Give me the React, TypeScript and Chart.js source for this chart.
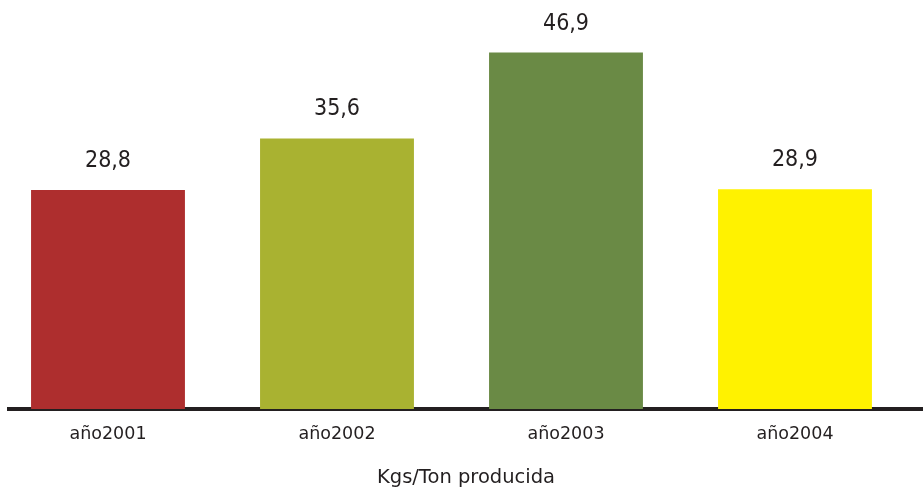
import React, { useEffect, useRef } from "react";
import { Chart, registerables } from "chart.js";

Chart.register(...registerables);

// Kgs per ton produced, by year
const categories = ["año2001", "año2002", "año2003", "año2004"];
const values = [28.8, 35.6, 46.9, 28.9];
const valueLabels = ["28,8", "35,6", "46,9", "28,9"];
const barColors = ["#ae2e2e", "#a9b231", "#6a8a45", "#fff200"];
const axisTitle = "Kgs/Ton producida";

const VALUE_FONT = "'DejaVu Sans Condensed', 'DejaVu Sans', sans-serif";
const TEXT_FONT = "'DejaVu Sans', sans-serif";
const INK = "#231f20";

// Writes each bar's value above it
const valueLabelPlugin = {
  id: "valueLabels",
  afterDatasetsDraw(chart: any) {
    const { ctx } = chart;
    const meta = chart.getDatasetMeta(0);
    ctx.save();
    ctx.font = `23px ${VALUE_FONT}`;
    ctx.fillStyle = INK;
    ctx.textAlign = "center";
    ctx.textBaseline = "alphabetic";
    meta.data.forEach((bar: any, i: number) => {
      ctx.fillText(valueLabels[i], bar.x, bar.y - 23);
    });
    ctx.restore();
  },
};

export default function App() {
  const canvasRef = useRef<HTMLCanvasElement | null>(null);

  useEffect(() => {
    if (!canvasRef.current) return;
    const chart = new Chart(canvasRef.current, {
      type: "bar",
      data: {
        datasets: [
          {
            data: values.map((v, i) => ({ x: i, y: v })),
            backgroundColor: barColors,
            borderWidth: 0,
            categoryPercentage: 1,
            barPercentage: 0.672,
          },
        ],
      },
      options: {
        animation: false,
        responsive: true,
        maintainAspectRatio: false,
        layout: { padding: { left: 9, right: 0, top: 29, bottom: 0 } },
        plugins: {
          legend: { display: false },
          tooltip: { enabled: false },
        },
        scales: {
          x: {
            type: "linear",
            offset: false,
            min: -0.4323,
            max: 3.559,
            afterBuildTicks: (scale: any) => {
              scale.ticks = categories.map((_, i) => ({ value: i }));
            },
            afterFit: (scale: any) => {
              scale.height = 82;
            },
            ticks: {
              callback: (v: any) => categories[v] ?? "",
              color: INK,
              font: { family: TEXT_FONT, size: 17.5 },
              padding: 15,
              maxRotation: 0,
              autoSkip: false,
            },
            grid: { display: false, drawTicks: false, tickLength: 0 },
            border: { display: true, color: INK, width: 4 },
            title: {
              display: true,
              text: axisTitle,
              color: INK,
              font: { family: TEXT_FONT, size: 19.5 },
              padding: { top: 0, bottom: 1 },
            },
          },
          y: {
            display: false,
            min: 0,
            max: 50,
          },
        },
      },
      plugins: [valueLabelPlugin],
    });
    return () => chart.destroy();
  }, []);

  return (
    <div
      style={{
        position: "absolute",
        left: 0,
        top: 0,
        width: 923,
        height: 491,
        background: "#ffffff",
      }}
    >
      <canvas ref={canvasRef} />
    </div>
  );
}
